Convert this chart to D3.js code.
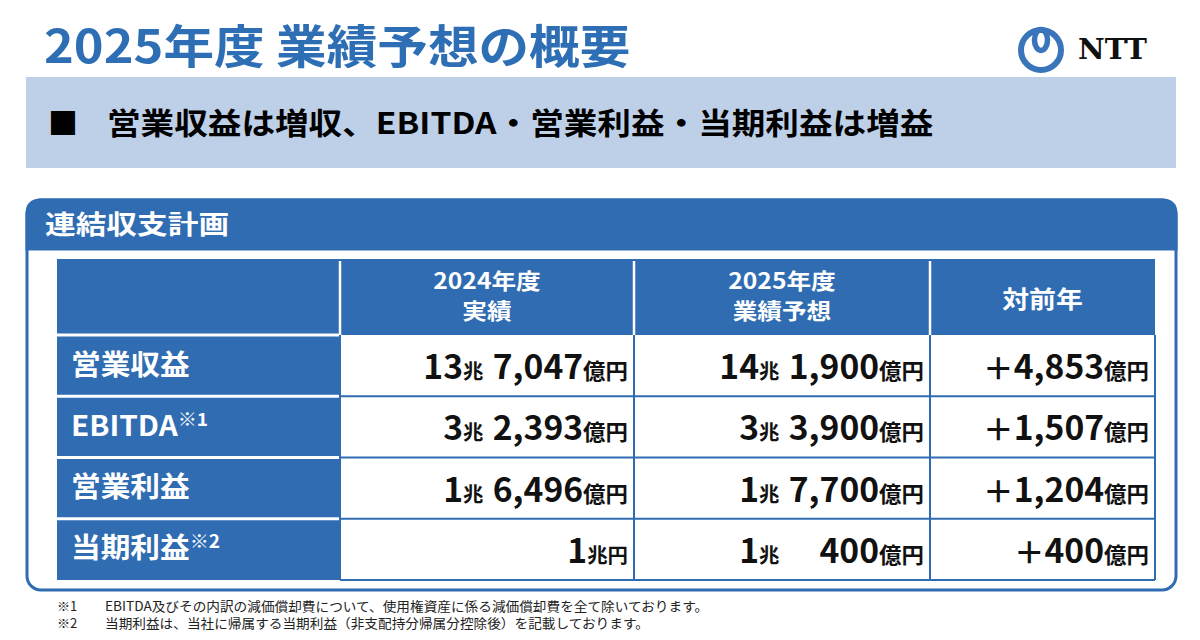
<!DOCTYPE html>
<html>
<head>
<meta charset="utf-8">
<script src="https://cdn.jsdelivr.net/npm/d3@7"></script>
<style>
  body { margin: 0; background: #fff; }
  svg { display: block; font-family: "Noto Sans CJK JP", "Noto Sans", sans-serif; font-weight: 700; }
</style>
</head>
<body>
<div id="chart"></div>
<script>
// values in 億円
const items = ["営業収益", "EBITDA", "営業利益", "当期利益"];
const itemNotes = ["", "※1", "", "※2"];
const fy2024 = [137047, 32393, 16496, 10000];
const fy2025 = [141900, 33900, 17700, 10400];
const yoy = [4853, 1507, 1204, 400];
const colHeads = [["2024年度", "実績"], ["2025年度", "業績予想"], ["対前年"]];
const footMarks = ["※1", "※2"];
const footTexts = [
  "EBITDA及びその内訳の減価償却費について、使用権資産に係る減価償却費を全て除いております。",
  "当期利益は、当社に帰属する当期利益（非支配持分帰属分控除後）を記載しております。"
];

const blue = "#2f6cb2";
const STRETCH = 1.12;

const svg = d3.select("#chart").append("svg")
  .attr("width", 1200).attr("height", 640);

// widen text a bit, the source font is wider than Noto
function widen(sel, k) {
  sel.each(function() {
    const w = this.getComputedTextLength();
    d3.select(this).attr("textLength", w * (k || STRETCH)).attr("lengthAdjust", "spacingAndGlyphs");
  });
  return sel;
}

// title
svg.append("text")
  .attr("x", 44).attr("y", 63)
  .attr("font-size", 46).attr("fill", "#2e6eb5")
  .text("2025年度 業績予想の概要")
  .call(widen, 1.1);

// NTT logo
const logo = svg.append("g").attr("fill", "none").attr("stroke", "#3a74bb");
logo.append("circle").attr("cx", 1041).attr("cy", 50).attr("r", 20).attr("stroke-width", 6);
logo.append("ellipse").attr("cx", 1041).attr("cy", 40).attr("rx", 6.5).attr("ry", 10.5).attr("stroke-width", 5.5);
svg.append("text")
  .attr("x", 1078).attr("y", 59)
  .attr("font-family", "DejaVu Serif").attr("font-weight", 900)
  .attr("font-size", 27).attr("fill", "#111")
  .attr("textLength", 69).attr("lengthAdjust", "spacingAndGlyphs")
  .text("NTT");

// summary band
svg.append("rect")
  .attr("x", 26).attr("y", 77).attr("width", 1150).attr("height", 91)
  .attr("fill", "#bed0e8");
svg.append("text")
  .attr("x", 48).attr("y", 134).attr("font-size", 30).attr("fill", "#000")
  .text("■");
svg.append("text")
  .attr("x", 107).attr("y", 134).attr("font-size", 30).attr("fill", "#000")
  .text("営業収益は増収、EBITDA・営業利益・当期利益は増益")
  .call(widen);

// panel
const panel = { x: 27, y: 200, w: 1149, h: 390, r: 14, head: 49 };
svg.append("rect")
  .attr("x", panel.x).attr("y", panel.y).attr("width", panel.w).attr("height", panel.h)
  .attr("rx", panel.r).attr("fill", "#fff").attr("stroke", blue).attr("stroke-width", 3);
svg.append("path")
  .attr("d", `M${panel.x},${panel.y + panel.head} V${panel.y + panel.r} Q${panel.x},${panel.y} ${panel.x + panel.r},${panel.y}
    H${panel.x + panel.w - panel.r} Q${panel.x + panel.w},${panel.y} ${panel.x + panel.w},${panel.y + panel.r} V${panel.y + panel.head} Z`)
  .attr("fill", blue).attr("stroke", blue).attr("stroke-width", 3);
svg.append("text")
  .attr("x", 45).attr("y", 234).attr("font-size", 26).attr("fill", "#fff")
  .text("連結収支計画")
  .call(widen, 1.18);

// table layout
const colEdges = [57, 340, 634, 930, 1155];
const headTop = 259, headBottom = 335;
const y = d3.scaleBand().domain(items).range([headBottom, 580]);
const table = svg.append("g");

// header row
table.append("rect")
  .attr("x", colEdges[0]).attr("y", headTop)
  .attr("width", colEdges[4] - colEdges[0]).attr("height", headBottom - headTop)
  .attr("fill", blue);
// label column
table.append("rect")
  .attr("x", colEdges[0]).attr("y", headBottom)
  .attr("width", colEdges[1] - colEdges[0]).attr("height", y.range()[1] - headBottom)
  .attr("fill", blue);

// white separators in header and label column
table.selectAll("line.hsep").data(colEdges.slice(1, 4)).join("line")
  .attr("x1", d => d).attr("x2", d => d)
  .attr("y1", headTop + 2).attr("y2", headBottom)
  .attr("stroke", "#fff").attr("stroke-width", 2.5);
table.selectAll("line.rsep").data(items).join("line")
  .attr("x1", colEdges[0]).attr("x2", colEdges[1] - 1)
  .attr("y1", d => y(d)).attr("y2", d => y(d))
  .attr("stroke", "#fff").attr("stroke-width", 3);

// blue grid over data cells
table.selectAll("line.grow").data(items.slice(1).concat(["end"])).join("line")
  .attr("x1", colEdges[1]).attr("x2", colEdges[4])
  .attr("y1", d => d === "end" ? y.range()[1] : y(d))
  .attr("y2", d => d === "end" ? y.range()[1] : y(d))
  .attr("stroke", blue).attr("stroke-width", 2);
table.selectAll("line.gcol").data(colEdges.slice(1)).join("line")
  .attr("x1", d => d).attr("x2", d => d)
  .attr("y1", headBottom).attr("y2", y.range()[1])
  .attr("stroke", blue).attr("stroke-width", 2);

// header text
colHeads.forEach((lines, i) => {
  const cx = (colEdges[i + 1] + colEdges[i + 2]) / 2;
  const base = lines.length === 2 ? [289, 319] : [308];
  lines.forEach((t, j) => {
    table.append("text")
      .attr("x", cx).attr("y", base[j]).attr("text-anchor", "middle")
      .attr("font-size", lines.length === 2 ? 22 : 24).attr("fill", "#fff")
      .text(t)
      .call(widen);
  });
});

// row labels
items.forEach((d, i) => {
  const t = table.append("text")
    .attr("x", 71).attr("y", y(d) + y.bandwidth() / 2 + 9)
    .attr("font-size", 28).attr("fill", "#fff");
  t.append("tspan").text(d);
  if (itemNotes[i]) {
    t.append("tspan").attr("font-size", 18).attr("dy", -10).text(itemNotes[i]);
  }
  t.call(widen, 1.06);
});

// value cells
const fmt = d3.format(",");
function valueText(g, x, yy, v, plus) {
  const t = g.append("text")
    .attr("x", x).attr("y", yy).attr("text-anchor", "end").attr("fill", "#111");
  const cho = Math.floor(v / 10000), oku = v % 10000;
  if (plus) t.append("tspan").attr("font-size", 30).text("＋");
  if (cho > 0) {
    t.append("tspan").attr("font-size", 33).text(cho);
    t.append("tspan").attr("font-size", 20).text(oku === 0 ? "兆円" : "兆");
  }
  if (oku > 0) {
    if (cho > 0) t.append("tspan").attr("font-size", 20).text("\u00a0\u00a0");
    if (cho > 0 && oku < 1000) {
      t.append("tspan").attr("font-size", 33).attr("fill", "none").text("0,");
    }
    t.append("tspan").attr("font-size", 33).text(fmt(oku));
    t.append("tspan").attr("font-size", 22).text("億円");
  }
  t.call(widen, 1.02);
}
const cols = [fy2024, fy2025, yoy];
cols.forEach((vals, c) => {
  vals.forEach((v, i) => {
    valueText(table, colEdges[c + 2] - 6, y(items[i]) + y.bandwidth() / 2 + 13.5, v, c === 2);
  });
});

// footnotes
footMarks.forEach((m, i) => {
  svg.append("text")
    .attr("x", 57).attr("y", 611 + i * 17).attr("font-size", 13)
    .attr("font-weight", 400).attr("fill", "#222").text(m);
  svg.append("text")
    .attr("x", 105).attr("y", 611 + i * 17).attr("font-size", 13)
    .attr("font-weight", 400).attr("fill", "#222").text(footTexts[i])
    .call(widen, 1.05);
});
</script>
</body>
</html>
